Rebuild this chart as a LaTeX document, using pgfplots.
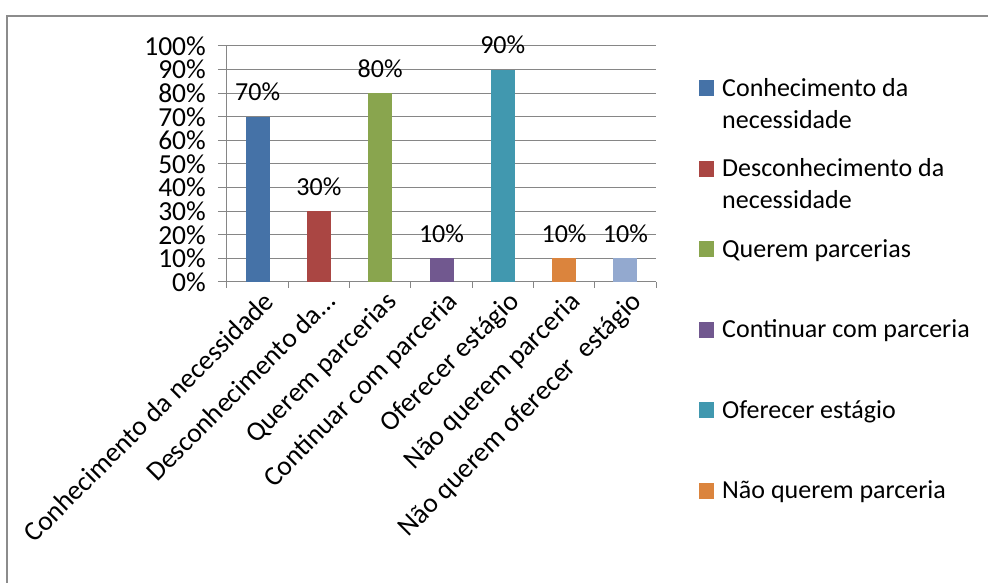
\documentclass[border=0pt]{standalone}
\usepackage{fontspec}
\setmainfont{Carlito}
\usepackage{pgfplots}
\pgfplotsset{compat=1.18}
\definecolor{c1}{HTML}{4572A7}
\definecolor{c2}{HTML}{AA4643}
\definecolor{c3}{HTML}{89A54E}
\definecolor{c4}{HTML}{71588F}
\definecolor{c5}{HTML}{4198AF}
\definecolor{c6}{HTML}{DB843D}
\definecolor{c7}{HTML}{93A9CF}
\definecolor{gridgray}{HTML}{868686}
\definecolor{framegray}{HTML}{8C8C8C}
\newcommand{\bigf}{\fontsize{26}{32}\selectfont}
\newcommand{\xf}{\fontsize{27.5}{33}\selectfont}
\newcommand{\yf}{\fontsize{27.5}{33}\selectfont}
\begin{document}
\begin{tikzpicture}[x=1pt,y=1pt]
\useasboundingbox (0,0) rectangle (988,583);
\draw[color=framegray, line width=2.5pt] (7,-5) -- (7,567) -- (995,567);
\begin{axis}[
  at={(227pt,301pt)}, anchor=south west,
  width=429pt, height=236pt, scale only axis,
  xmin=-0.5, xmax=6.5, ymin=0, ymax=100,
  axis x line*=bottom, axis y line*=left,
  axis line style={gridgray, line width=1pt},
  ybar, bar width=24pt, clip=false,
  ytick={0,10,...,100},
  ymajorgrids, grid style={gridgray, line width=1pt},
  /pgf/number format/assume math mode=true,
  yticklabel={\pgfmathprintnumber{\tick}\%},
  xtick={0,...,6},
  xticklabels={Conhecimento da necessidade, Desconhecimento da…, Querem parcerias, Continuar com parceria, Oferecer estágio, Não querem parceria, Não querem oferecer\ \ estágio},
  minor xtick={-0.5,0.5,...,6.5},
  tick align=outside,
  major tick length=9pt, minor tick length=6pt,
  major x tick style={draw=none},
  every tick/.style={gridgray, line width=1pt},
  minor tick style={gridgray, line width=1pt},
  tick label style={text=black},
  xticklabel style={font=\xf, rotate=45, anchor=north east, inner sep=2pt, xshift=6pt},
  yticklabel style={font=\yf, inner sep=3pt, xshift=-9pt},
  nodes near coords={\pgfmathprintnumber{\pgfplotspointmeta}\%},
  nodes near coords style={font=\bigf, anchor=base, yshift=16pt, text=black},
  legend style={draw=none, fill=none, at={(axis description cs:1.1002,0.873)}, anchor=north west,
    row sep=0pt, column sep=8pt, inner sep=0pt,
    nodes={font=\bigf, inner sep=0pt, text height=20pt, text depth=60.5pt, anchor=base west}},
  legend cell align=left,
  legend image code/.code={\fill[#1] (0pt,0pt) rectangle (15pt,16pt);},
]
\addplot[fill=c1, draw=none, bar shift=0pt] coordinates {(0,70)};
\addplot[fill=c2, draw=none, bar shift=0pt] coordinates {(1,30)};
\addplot[fill=c3, draw=none, bar shift=0pt] coordinates {(2,80)};
\addplot[fill=c4, draw=none, bar shift=0pt] coordinates {(3,10)};
\addplot[fill=c5, draw=none, bar shift=0pt] coordinates {(4,90)};
\addplot[fill=c6, draw=none, bar shift=0pt] coordinates {(5,10)};
\addplot[fill=c7, draw=none, bar shift=0pt] coordinates {(6,10)};
\legend{{\parbox[t]{260pt}{Conhecimento da\\necessidade}},
        {\parbox[t]{260pt}{Desconhecimento da\\necessidade}},
        Querem parcerias, Continuar com parceria, Oferecer estágio, Não querem parceria}
\end{axis}
\end{tikzpicture}
\end{document}
